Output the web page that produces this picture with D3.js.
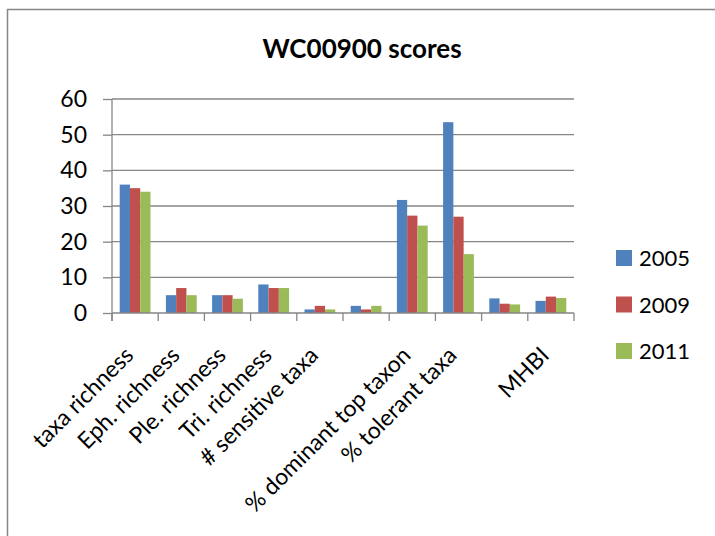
<!DOCTYPE html>
<html>
<head>
<meta charset="utf-8">
<script src="https://cdn.jsdelivr.net/npm/d3@7"></script>
<style>
  body { margin: 0; background: #fff; }
  svg { display: block; font-family: Lato, "Open Sans", sans-serif; }
</style>
</head>
<body>
<div id="canvas-body"></div>
<script>
// categories (two of them have no visible label)
var categories = ["taxa richness", "Eph. richness", "Ple. richness", "Tri. richness",
    "# sensitive taxa", "", "% dominant top taxon", "% tolerant taxa", "", "MHBI"];
var catKeys = categories.map(function(c, i){ return "c" + i; });

// series
var years = ["2005", "2009", "2011"];
var values2005 = [36, 5, 5, 8, 1, 2, 31.7, 53.5, 4.1, 3.4];
var values2009 = [35, 7, 5, 7, 2, 1, 27.3, 27, 2.6, 4.6];
var values2011 = [34, 5, 4, 7, 1, 2, 24.5, 16.5, 2.4, 4.2];
var seriesValues = [values2005, values2009, values2011];
var colors = ["#4F81BD", "#C0504D", "#9BBB59"];

// y axis ticks
var yTicks = [0, 10, 20, 30, 40, 50, 60];

// size of svg image
const width = 715, height = 536;
var plot = {left: 112, right: 574, top: 99, bottom: 313};

var s = d3.select("#canvas-body")
            .append("svg")
            .attr("width", width)
            .attr("height", height);

// chart border
s.append("rect")
    .attr("x", 7.5).attr("y", 9.5)
    .attr("width", 760).attr("height", 600)
    .attr("fill", "none")
    .attr("stroke", "#868686")
    .attr("stroke-width", 1.5);

// title
s.append("text")
    .attr("x", 362).attr("y", 58)
    .attr("text-anchor", "middle")
    .attr("font-weight", "bold")
    .attr("font-size", 26)
    .text("WC00900 scores");

// scales
var x0 = d3.scaleBand().domain(catKeys).range([plot.left, plot.right]).paddingInner(0).paddingOuter(0);
var x1 = d3.scaleBand().domain(years).range([0, x0.bandwidth()]).paddingInner(0).paddingOuter(0.75);
var y = d3.scaleLinear().domain([0, 60]).range([plot.bottom, plot.top]);

// gridlines
s.append("g")
    .selectAll("line")
    .data(yTicks.slice(1))
    .enter()
    .append("line")
    .attr("x1", plot.left).attr("x2", plot.right)
    .attr("y1", function(d){ return y(d); })
    .attr("y2", function(d){ return y(d); })
    .attr("stroke", "#868686")
    .attr("stroke-width", 1.3);

// bars
for(var k = 0; k < years.length; k++){
    s.append("g")
        .selectAll("rect")
        .data(seriesValues[k])
        .enter()
        .append("rect")
        .attr("x", function(d, i){ return x0(catKeys[i]) + x1(years[k]); })
        .attr("y", function(d){ return y(d); })
        .attr("width", x1.bandwidth())
        .attr("height", function(d){ return y(0) - y(d); })
        .attr("fill", colors[k]);
}

// y axis
var yaxis = d3.axisLeft(y).tickValues(yTicks).tickSize(9).tickPadding(16);
var gy = s.append("g")
    .attr("transform", "translate(" + plot.left + ",0)")
    .call(yaxis);
gy.select(".domain").remove();
gy.append("line")
    .attr("x1", 0).attr("x2", 0)
    .attr("y1", plot.top).attr("y2", plot.bottom + 8)
    .attr("stroke", "#868686").attr("stroke-width", 1.3);
gy.selectAll(".tick line").attr("stroke", "#868686").attr("stroke-width", 1.3);
gy.selectAll(".tick text")
    .attr("font-size", 23)
    .attr("font-family", "Lato, sans-serif")
    .attr("fill", "#000");

// x axis line and ticks at category boundaries
var boundaries = catKeys.map(function(c){ return x0(c); }).concat([plot.right]);
s.append("line")
    .attr("x1", plot.left).attr("x2", plot.right)
    .attr("y1", plot.bottom).attr("y2", plot.bottom)
    .attr("stroke", "#868686").attr("stroke-width", 1.3);
s.append("g")
    .selectAll("line")
    .data(boundaries)
    .enter()
    .append("line")
    .attr("x1", function(d){ return d; })
    .attr("x2", function(d){ return d; })
    .attr("y1", plot.bottom).attr("y2", plot.bottom + 8)
    .attr("stroke", "#868686").attr("stroke-width", 1.3);

// rotated category labels
s.append("g")
    .selectAll("text")
    .data(categories)
    .enter()
    .append("text")
    .attr("transform", function(d, i){
        var cx = x0(catKeys[i]) + x0.bandwidth() / 2;
        return "translate(" + (cx - 6) + "," + (plot.bottom + 38) + ") rotate(-45)";
    })
    .attr("text-anchor", "end")
    .attr("dy", "0.35em")
    .attr("font-size", 23)
    .text(function(d){ return d; });

// legend
var legend = s.append("g")
    .selectAll("g")
    .data(years)
    .enter()
    .append("g")
    .attr("transform", function(d, i){ return "translate(616," + (250 + i * 46.5) + ")"; });
legend.append("rect")
    .attr("width", 16).attr("height", 16)
    .attr("fill", function(d, i){ return colors[i]; });
legend.append("text")
    .attr("x", 23).attr("y", 16)
    .attr("font-size", 22)
    .text(function(d){ return d; });
</script>
</body>
</html>
